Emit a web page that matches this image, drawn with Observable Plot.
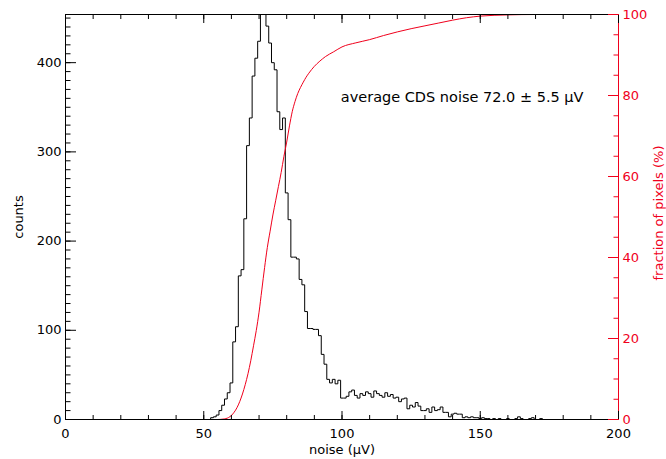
<!DOCTYPE html>
<html><head><meta charset="utf-8">
<script src="https://cdn.jsdelivr.net/npm/d3@7"></script>
<script src="https://cdn.jsdelivr.net/npm/@observablehq/plot@0.6"></script>
<style>body{margin:0;background:#fff} svg{display:block}</style>
</head><body><div id="chart"></div>
<script>
// ---- data ----
const histStart = 50; // centre of the first 1-µV bin
const histCounts = [
  0, 0, 0, 2, 3, 5, 10, 16, 23, 30,            // 50-59
  41, 87, 104, 161, 168, 225, 307, 338, 385, 405, // 60-69
  424, 480, 470, 441, 422, 400, 392, 345, 325, 338, // 70-79
  254, 224, 182, 182, 180, 157, 151, 121, 102, 102, // 80-89
  101, 101, 94, 73, 62, 45, 41, 45, 40, 44,     // 90-99
  24, 24, 26, 31, 33, 27, 24, 29, 27, 31,       // 100-109
  29, 25, 32, 29, 27, 25, 30, 26, 28, 24,       // 110-119
  25, 20, 23, 24, 12, 16, 14, 19, 15, 10,       // 120-129
  10, 12, 8, 14, 10, 11, 14, 8, 8, 3,           // 130-139
  6, 7, 6, 6, 2, 3, 2, 3, 2, 2,                 // 140-149
  1, 2, 1, 1, 0, 1, 0, 1, 0, 0,                 // 150-159
  1, 0, 0, 1, 3, 1, 0, 0, 1, 2,                 // 160-169
  0, 0, 1, 0, 0, 0, 0, 0, 0, 0,                 // 170-179
  0, 0, 0, 0, 0, 0, 0, 0, 0, 0,                 // 180-189
  0, 0, 0, 0, 0, 0, 0, 0, 0, 0                  // 190-199
];
const cdfNoise = [0, 55, 57, 59, 60, 61, 62, 63, 64, 65, 66, 67, 68, 69, 70, 71, 72, 73, 74, 75, 76, 77, 78, 79, 80, 81, 82, 83, 84, 85, 86, 87, 88, 89, 90, 92, 94, 97, 100, 105, 110, 115, 120, 125, 130, 135, 140, 145, 150, 160, 170, 200];
const cdfPct   = [0, 0, 0.1, 0.5, 1, 1.8, 2.9, 4.4, 6.3, 8.6, 11.3, 14.5, 18.2, 22, 26.5, 32, 37.5, 42.5, 46.5, 50.5, 54, 57.5, 61, 65, 68.5, 72.5, 76, 78.5, 80.5, 82, 83.3, 84.5, 85.5, 86.4, 87.2, 88.5, 89.6, 90.8, 92, 93, 93.8, 94.8, 95.7, 96.5, 97.2, 97.9, 98.6, 99.2, 99.6, 99.9, 100, 100];

const xDomain = [0, 200];
const countDomain = [0, 454];
const pctDomain = [0, 100];
const xMajorTicks = [0, 50, 100, 150, 200];
const xMinorTicks = [0,10,20,30,40,50,60,70,80,90,100,110,120,130,140,150,160,170,180,190,200];
const countMajorTicks = [0, 100, 200, 300, 400];
const countMinorTicks = [0,10,20,30,40,50,60,70,80,90,100,110,120,130,140,150,160,170,180,190,200,210,220,230,240,250,260,270,280,290,300,310,320,330,340,350,360,370,380,390,400,410,420,430,440,450];
const pctMajorTicks = [0, 20, 40, 60, 80, 100];
const pctMinorTicks = [0,5,10,15,20,25,30,35,40,45,50,55,60,65,70,75,80,85,90,95,100];
const annotation = "average CDS noise 72.0 ± 5.5 μV";
const xLabel = "noise (μV)";
const yLabel = "counts";
const y2Label = "fraction of pixels (%)";

// ---- tables ----
const histData = histCounts.map((c, i) => ({noise: histStart + i, count: c}));
const cdfData = cdfNoise.map((n, i) => ({noise: n, pct: cdfPct[i]}));
const toCount = p => countDomain[0] + (p - pctDomain[0]) / (pctDomain[1] - pctDomain[0]) * (countDomain[1] - countDomain[0]);
const toPct = c => pctDomain[0] + (c - countDomain[0]) / (countDomain[1] - countDomain[0]) * (pctDomain[1] - pctDomain[0]);

const RED = "#f0001c";
const FONT = 13;
const blank = () => "";

const chart = Plot.plot({
  width: 666, height: 459,
  marginLeft: 65, marginRight: 48, marginTop: 14, marginBottom: 40,
  style: {fontFamily: "'DejaVu Sans', sans-serif", fontSize: FONT + "px", background: "white", color: "black"},
  x: {domain: xDomain, label: null},
  y: {domain: countDomain, label: null},
  marks: [
    Plot.line(histData, {x: "noise", y: "count", curve: "step", stroke: "black", strokeWidth: 1, clip: true}),
    Plot.line(cdfData, {x: "noise", y: d => toCount(d.pct), curve: "monotone-x", stroke: RED, strokeWidth: 1, clip: true}),
    Plot.frame({stroke: "black"}),
    Plot.ruleX([xDomain[1]], {stroke: RED}),
    Plot.axisX(xMajorTicks, {anchor: "bottom", tickSize: -8, tickPadding: 17, fontSize: FONT, label: null}),
    Plot.axisX(xMinorTicks, {anchor: "bottom", tickSize: -4, tickFormat: blank, label: null}),
    Plot.axisX(xMajorTicks, {anchor: "top", tickSize: -8, tickFormat: blank, label: null}),
    Plot.axisX(xMinorTicks, {anchor: "top", tickSize: -4, tickFormat: blank, label: null}),
    Plot.axisY(countMajorTicks, {anchor: "left", tickSize: -11, tickPadding: 15, fontSize: FONT, label: null}),
    Plot.axisY(countMinorTicks, {anchor: "left", tickSize: -5.5, tickFormat: blank, label: null}),
    Plot.axisY(pctMajorTicks.map(toCount), {anchor: "right", tickSize: -11, tickPadding: 15, color: RED, fontSize: FONT, label: null,
      tickFormat: d => String(Math.round(toPct(d)))}),
    Plot.axisY(pctMinorTicks.map(toCount), {anchor: "right", tickSize: -5.5, color: RED, tickFormat: blank, label: null}),
    Plot.text([annotation], {text: d => d, frameAnchor: "top-right", textAnchor: "end", dx: -35, dy: 77, fontSize: 14.5}),
    Plot.text([xLabel], {text: d => d, frameAnchor: "bottom", textAnchor: "middle", dy: 34, fontSize: FONT}),
    Plot.text([yLabel], {text: d => d, frameAnchor: "left", textAnchor: "middle", rotate: -90, dx: -47, fontSize: FONT}),
    Plot.text([y2Label], {text: d => d, frameAnchor: "right", textAnchor: "middle", rotate: -90, dx: 40, dy: -4, fill: RED, fontSize: FONT})
  ]
});
document.getElementById("chart").appendChild(chart);
</script>
</body></html>
